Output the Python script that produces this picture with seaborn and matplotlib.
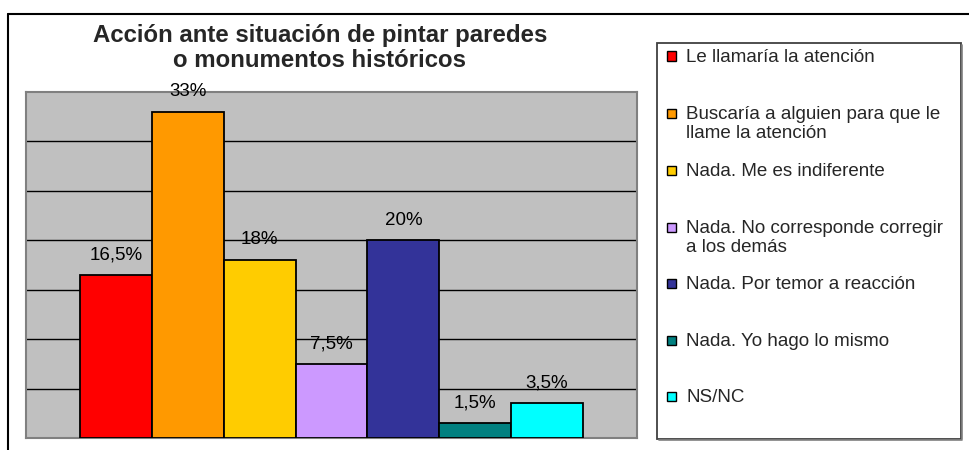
import matplotlib
matplotlib.use("Agg")
import matplotlib.pyplot as plt
from matplotlib.patches import Rectangle
from matplotlib.lines import Line2D
import seaborn as sns
import pandas as pd

categories = [
    "Le llamaría la atención",
    "Buscaría a alguien para que le\nllame la atención",
    "Nada. Me es indiferente",
    "Nada. No corresponde corregir\na los demás",
    "Nada. Por temor a reacción",
    "Nada. Yo hago lo mismo",
    "NS/NC",
]
values = [16.5, 33, 18, 7.5, 20, 1.5, 3.5]
value_labels = ["16,5%", "33%", "18%", "7,5%", "20%", "1,5%", "3,5%"]
colors = ["#FF0000", "#FF9900", "#FFCC00", "#CC99FF", "#333399", "#008080", "#00FFFF"]
title = "Acción ante situación de pintar paredes\no monumentos históricos"

sns.set_theme(style="white")
plt.rcParams["font.family"] = ["Liberation Sans", "DejaVu Sans"]

W, H = 970, 450
fig = plt.figure(figsize=(W / 100, H / 100), dpi=100)

def fx(px):
    return px / W

def fy(py):
    return 1 - py / H

# outer chart border (top and left visible)
fig.add_artist(Line2D([fx(8), fx(970)], [fy(13.5), fy(13.5)], color="black", lw=1.5))
fig.add_artist(Line2D([fx(8), fx(8)], [fy(13.5), fy(450)], color="black", lw=1.5))

ax = fig.add_axes([fx(26), fy(438), fx(637 - 26), (438 - 92) / H])
df = pd.DataFrame({"cat": categories, "val": values})
sns.barplot(data=df, x="cat", y="val", hue="cat", palette=colors, dodge=False,
            saturation=1, width=1.0, legend=False, edgecolor="black",
            linewidth=1.3, ax=ax, zorder=3)
ax.set_facecolor("#C0C0C0")
ax.set_xlim(-1.25, 7.25)
ax.set_ylim(0, 35)
ax.set_yticks([5, 10, 15, 20, 25, 30])
ax.yaxis.grid(True, color="black", lw=1.0)
ax.set_axisbelow(True)
ax.set_xticks([])
ax.set_yticklabels([])
ax.tick_params(left=False, bottom=False)
ax.set_xlabel("")
ax.set_ylabel("")
for s in ax.spines.values():
    s.set_visible(True)
    s.set_color("#808080")
    s.set_linewidth(1.5)

for i, (v, lab) in enumerate(zip(values, value_labels)):
    ax.annotate(lab, (i, v), xytext=(0, 14.5), textcoords="offset points",
                ha="center", va="center", fontsize=13.5, color="black",
                annotation_clip=False, zorder=5)

fig.text(fx(320), fy(48), title, ha="center", va="center", fontsize=17.3,
         fontweight="bold", linespacing=1.08)

# legend box
fig.add_artist(Rectangle((fx(657), fy(439)), fx(961 - 657), (439 - 43) / H,
                         facecolor="white", edgecolor="#404040", lw=1.3))
fig.add_artist(Line2D([fx(962), fx(962)], [fy(439), fy(45)], color="#808080", lw=1.2))
fig.add_artist(Line2D([fx(659), fx(962)], [fy(440), fy(440)], color="#808080", lw=1.2))
leg_y = [56, 113, 170, 227, 283, 340, 396]
for cat, col, yy in zip(categories, colors, leg_y):
    fig.add_artist(Rectangle((fx(667), fy(yy + 4.5)), fx(9), 9 / H,
                             facecolor=col, edgecolor="black", lw=1.0))
    for k, line in enumerate(cat.split("\n")):
        fig.text(fx(686), fy(yy + 6 + 19.5 * k), line, ha="left", va="baseline",
                 fontsize=13.5)

fig.savefig("out.png", dpi=100)
